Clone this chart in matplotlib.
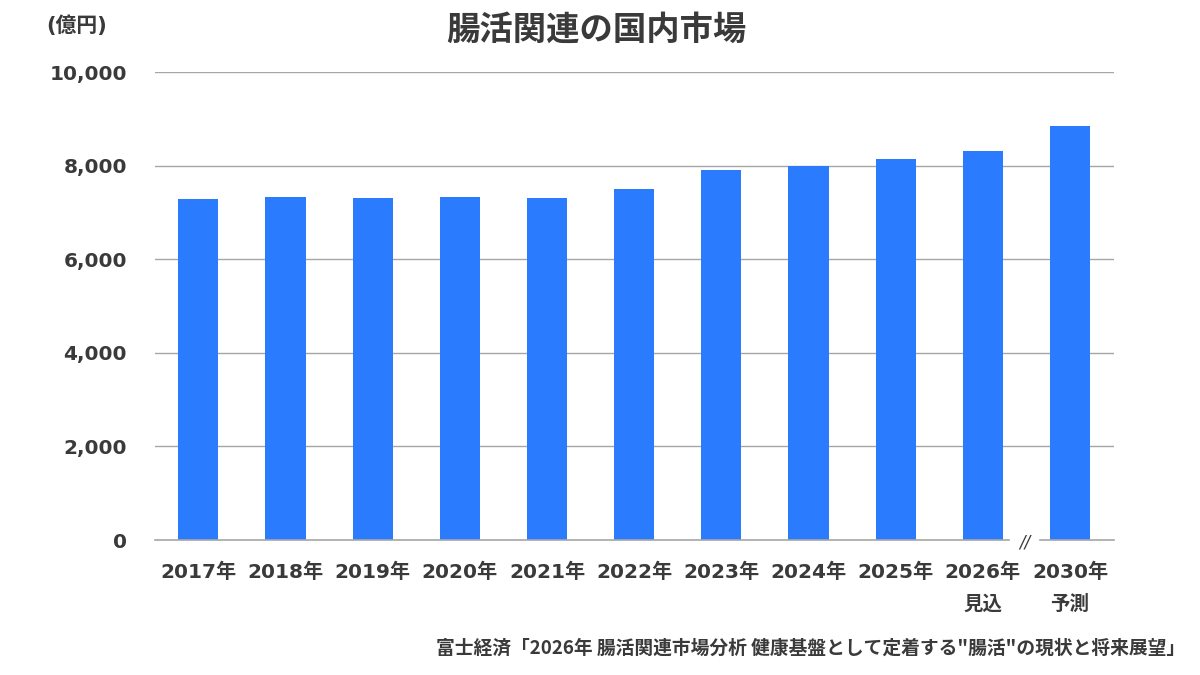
import numpy as np
import matplotlib.pyplot as plt

plt.rcParams['font.family'] = ['DejaVu Sans', 'Noto Sans CJK JP']

years = ["2017年", "2018年", "2019年", "2020年", "2021年", "2022年",
         "2023年", "2024年", "2025年", "2026年", "2030年"]
sub_labels = ["", "", "", "", "", "", "", "", "", "見込", "予測"]
market = [7300, 7340, 7320, 7340, 7320, 7510, 7900, 7990, 8150, 8320, 8840]
yticks = [0, 2000, 4000, 6000, 8000, 10000]

text_col = "#3a3a3a"
bar_col = "#2b7bff"
cjk = ['Noto Sans CJK JP', 'DejaVu Sans']

fig = plt.figure(figsize=(12, 6.75), dpi=100)
ax = fig.add_axes([0.129, 0.2, 0.799, 0.693])

x = np.arange(len(years))
ax.bar(x, market, width=0.46, color=bar_col, zorder=3)

ax.set_xlim(-0.5, len(years) - 0.5)
ax.set_ylim(0, 10000)
ax.set_yticks(yticks)
ax.set_yticklabels([f"{v:,}" for v in yticks], fontsize=14.5, fontweight="bold", color=text_col)
ax.tick_params(axis="y", length=0, pad=20)
ax.set_xticks([])
for v in yticks[1:]:
    ax.axhline(v, color="#a6a6a6", lw=1, zorder=1)
for s in ax.spines.values():
    s.set_visible(False)

# baseline with break before last category
ax.plot([-0.5, 9.3], [0, 0], color="#a6a6a6", lw=1.2, clip_on=False, zorder=4)
ax.plot([9.66, 10.5], [0, 0], color="#a6a6a6", lw=1.2, clip_on=False, zorder=4)
ax.text(9.48, -60, "//", ha="center", va="center", fontsize=12, color=text_col,
        style="italic")

for i, (lab, sub) in enumerate(zip(years, sub_labels)):
    ax.text(i, -700, lab, ha="center", va="center", fontsize=14.5,
            fontweight="bold", color=text_col)
    if sub:
        ax.text(i, -1380, sub, ha="center", va="center", fontsize=14,
                fontweight="bold", color=text_col, family=cjk)

fig.text(0.497, 0.955, "腸活関連の国内市場", ha="center", va="center",
         fontsize=24, fontweight="bold", color=text_col, family=cjk)
fig.text(0.064, 0.962, "(億円)", ha="center", va="center", fontsize=15,
         fontweight="bold", color=text_col)
fig.text(0.988, 0.04, "富士経済「2026年 腸活関連市場分析 健康基盤として定着する\"腸活\"の現状と将来展望」",
         ha="right", va="center", fontsize=13.5, fontweight="bold", color=text_col,
         family=cjk)

fig.savefig("out.png", dpi=100)
